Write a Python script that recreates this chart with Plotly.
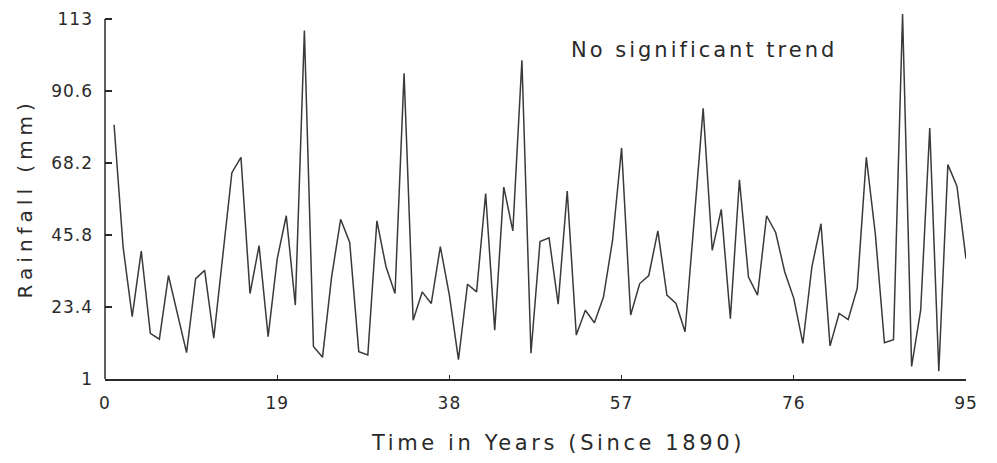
import plotly.graph_objects as go

years = list(range(1, 96))
rainfall = [
    80.1, 42.0, 20.4, 40.8, 15.2, 13.4, 33.2, 21.5, 9.2, 32.2,
    34.8, 13.7, 39.5, 65.2, 70.0, 27.6, 42.5, 14.2, 38.4, 51.8,
    24.0, 109.4, 11.1, 7.8, 32.7, 50.7, 43.5, 9.5, 8.5, 50.2,
    36.0, 27.6, 96.1, 19.3, 28.1, 24.5, 42.2, 27.0, 7.0, 30.5,
    28.1, 58.7, 16.2, 60.7, 47.1, 100.2, 9.0, 43.8, 44.9, 24.3,
    59.5, 14.7, 22.4, 18.5, 26.5, 44.1, 72.9, 20.9, 30.7, 33.2,
    47.1, 27.1, 24.5, 15.7, 50.2, 85.2, 41.0, 53.8, 19.8, 63.0,
    32.7, 27.1, 51.8, 46.6, 34.3, 26.1, 12.1, 36.0, 49.3, 11.3,
    21.4, 19.5, 29.2, 70.0, 46.0, 12.3, 13.2, 114.6, 4.9, 22.4,
    79.1, 3.4, 67.7, 61.0, 38.4,
]
x_ticks = [0, 19, 38, 57, 76, 95]
y_ticks = [1, 23.4, 45.8, 68.2, 90.6, 113]
y_tick_text = ["1", "23.4", "45.8", "68.2", "90.6", "113"]

FONT = "DejaVu Sans, Liberation Sans, sans-serif"
INK = "#2a2a2a"


def spaced(s, px):
    return f'<span style="letter-spacing:{px}px">{s}</span>'


fig = go.Figure()
fig.add_trace(go.Scatter(
    x=years, y=rainfall, mode="lines",
    line=dict(color="#3a3a3a", width=1.5),
    showlegend=False, hoverinfo="skip",
))

# page body has an 8px margin, so the figure is 8px smaller and margins compensate
fig.update_layout(
    width=989, height=455,
    margin=dict(l=97, r=31, t=4, b=84),
    paper_bgcolor="white", plot_bgcolor="white",
    font=dict(family=FONT, size=17, color=INK),
    xaxis=dict(
        range=[0, 95], tickvals=x_ticks,
        ticktext=[spaced(str(v), 1) for v in x_ticks],
        showline=True, linecolor=INK, linewidth=1.5,
        ticks="inside", ticklen=4, tickcolor=INK, tickwidth=1,
        showgrid=False, zeroline=False, ticklabelstandoff=8,
        automargin=False, ticklabeloverflow="allow",
        tickfont=dict(size=17, family=FONT, color=INK),
    ),
    yaxis=dict(
        range=[1, 115.2], tickvals=y_ticks,
        ticktext=[spaced(t, 1) for t in y_tick_text],
        showline=False,
        ticks="inside", ticklen=7, tickcolor=INK, tickwidth=1.5,
        showgrid=False, zeroline=False, ticklabelstandoff=11,
        automargin=False, ticklabeloverflow="allow",
        tickfont=dict(size=17, family=FONT, color=INK),
    ),
    shapes=[dict(type="line", xref="paper", yref="y", x0=0, x1=0,
                 y0=1, y1=113, line=dict(color=INK, width=1.5))],
    annotations=[
        dict(text=spaced("No significant trend", 3), xref="x", yref="y",
             x=66.1, y=103.4, showarrow=False, xanchor="center", yanchor="middle",
             font=dict(size=21, family=FONT, color=INK)),
        dict(text=spaced("Time in Years (Since 1890)", 3.6), xref="x", yref="paper",
             x=50, y=0, yshift=-64, showarrow=False, xanchor="center", yanchor="middle",
             font=dict(size=21, family=FONT, color=INK)),
        dict(text=spaced("Rainfall (mm)", 5), xref="paper", yref="y",
             x=0, xshift=-80, y=57.2, textangle=-90, showarrow=False,
             xanchor="center", yanchor="middle",
             font=dict(size=20, family=FONT, color=INK)),
    ],
)

fig.write_html("out.html")
